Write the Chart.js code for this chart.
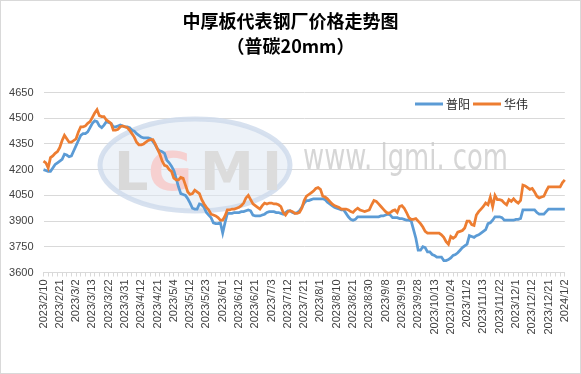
<!DOCTYPE html>
<html lang="zh">
<head>
<meta charset="UTF-8" />
<title>中厚板代表钢厂价格走势图</title>
<script src="https://cdn.jsdelivr.net/npm/chart.js"></script>
<style>
  html, body { margin: 0; padding: 0; background: #fff; }
  #grafico { display: block; }
</style>
</head>
<body>
<canvas id="grafico" width="581" height="374"></canvas>
<script>
  // one label every 7 trading days
  var dateLabels = ['2023/2/10','2023/2/21','2023/3/2','2023/3/13','2023/3/22','2023/3/31','2023/4/12','2023/4/21',
    '2023/5/4','2023/5/12','2023/5/23','2023/6/1','2023/6/12','2023/6/21','2023/7/3','2023/7/12','2023/7/21',
    '2023/8/1','2023/8/10','2023/8/21','2023/8/30','2023/9/8','2023/9/19','2023/9/28','2023/10/13','2023/10/24',
    '2023/11/2','2023/11/13','2023/11/22','2023/12/1','2023/12/12','2023/12/21','2024/1/2'];

  var seriesNames = ['普阳', '华伟'];

  var puyang = [
    4200,4195,4190,4190,4210,4230,4240,4250,4260,4290,
    4285,4275,4280,4310,4340,4370,4400,4410,4410,4420,
    4445,4470,4485,4480,4455,4445,4460,4480,4475,4470,
    4450,4450,4455,4460,4455,4450,4450,4445,4430,4425,
    4410,4400,4390,4385,4385,4385,4380,4365,4345,4320,
    4310,4305,4295,4255,4240,4220,4195,4150,4100,4060,
    4055,4050,4030,4005,3975,3970,3970,4000,3995,3980,
    3950,3935,3920,3890,3885,3885,3890,3830,3890,3945,
    3945,3945,3950,3950,3950,3955,3955,3960,3965,3960,
    3935,3930,3930,3930,3935,3940,3950,3955,3955,3955,
    3950,3950,3945,3940,3950,3960,3960,3950,3945,3950,
    3960,3980,4005,4020,4020,4025,4030,4030,4030,4030,
    4030,4025,4010,4000,3990,3980,3975,3970,3965,3965,
    3945,3925,3910,3905,3910,3925,3925,3925,3925,3925,
    3925,3925,3925,3925,3925,3930,3930,3935,3940,3935,
    3920,3920,3920,3915,3915,3910,3905,3905,3900,3850,
    3800,3730,3730,3750,3745,3720,3720,3705,3700,3690,
    3690,3690,3670,3670,3675,3685,3700,3705,3715,3730,
    3745,3755,3765,3815,3810,3805,3815,3820,3830,3840,
    3850,3885,3890,3905,3925,3925,3925,3920,3905,3905,
    3905,3905,3905,3910,3910,3915,3965,3965,3965,3965,
    3965,3965,3950,3940,3940,3940,3955,3970,3970,3970,
    3970,3970,3970,3970,3970
  ];

  var huawei = [
    4250,4240,4210,4270,4280,4295,4305,4330,4370,4400,
    4380,4360,4360,4370,4380,4420,4450,4450,4455,4470,
    4480,4505,4530,4550,4515,4510,4510,4490,4480,4470,
    4430,4430,4435,4450,4455,4450,4445,4430,4410,4390,
    4360,4345,4345,4350,4360,4370,4375,4375,4350,4320,
    4290,4250,4225,4220,4200,4190,4150,4140,4140,4155,
    4150,4110,4070,4055,4060,4080,4070,4060,4025,4000,
    3980,3965,3940,3935,3930,3920,3905,3905,3930,3965,
    3965,3970,3970,3975,3980,3990,4005,4035,4050,4025,
    4000,3990,3980,3970,3990,4005,4000,4005,4005,4000,
    4000,3995,3985,3950,3935,3955,3960,3955,3945,3945,
    3950,3975,4020,4045,4055,4065,4075,4090,4095,4085,
    4045,4040,4030,4015,4000,3990,3985,3980,3970,3970,
    3970,3965,3955,3950,3965,3975,3965,3960,3955,3960,
    3965,3995,4020,4015,4000,3985,3970,3955,3945,3950,
    3960,3965,3950,3985,3990,3975,3950,3920,3910,3910,
    3915,3900,3885,3865,3840,3830,3830,3830,3830,3830,
    3830,3820,3805,3780,3765,3810,3800,3810,3835,3840,
    3845,3860,3900,3900,3880,3875,3935,3955,3970,3985,
    4005,3995,4040,3985,4050,4025,4025,4020,4005,3995,
    4025,4015,4030,4015,4005,4020,4110,4105,4095,4085,
    4090,4070,4045,4035,4040,4045,4075,4100,4100,4100,
    4100,4100,4100,4125,4140
  ];

  var yMin = 3600, yMax = 4650, yStep = 150;

  var categories = [];
  for (var i = 0; i < puyang.length; i++) {
    categories.push(i % 7 === 0 ? dateLabels[i / 7] : '');
  }

  var colors = ['#5b9bd5', '#ed7d31'];

  // title, legend, watermark and frame
  var extras = {
    id: 'extras',
    beforeDraw: function (chart) {
      var ctx = chart.ctx;
      ctx.save();
      ctx.fillStyle = '#ffffff';
      ctx.fillRect(0, 0, chart.width, chart.height);
      ctx.restore();
    },
    beforeDatasetsDraw: function (chart) {
      var ctx = chart.ctx;
      ctx.save();
      // logo
      ctx.beginPath();
      ctx.ellipse(195, 165, 95, 46, 0, 0, 2 * Math.PI);
      ctx.fillStyle = 'rgba(222,231,242,0.55)';
      ctx.fill();
      ctx.lineWidth = 5;
      ctx.strokeStyle = 'rgba(205,218,235,0.8)';
      ctx.stroke();
      ctx.font = 'bold 54px "DejaVu Sans"';
      ctx.textBaseline = 'alphabetic';
      ctx.textAlign = 'left';
      var letters = [['L', 114, '#d9d9d9'], ['G', 148, '#f6d0d0'], ['M', 200, '#dcdcdc'], ['I', 262, '#dcdcdc']];
      letters.forEach(function (l) {
        ctx.fillStyle = l[2];
        ctx.fillText(l[0], l[1], 190);
      });
      // site text
      ctx.font = '36px "DejaVu Sans"';
      var txt = 'www. lgmi. com';
      var w = ctx.measureText(txt).width;
      ctx.translate(303, 169);
      ctx.scale(205 / w, 1);
      ctx.fillStyle = 'rgba(200,200,200,0.75)';
      ctx.fillText(txt, 0, 0);
      ctx.restore();
    },
    afterDraw: function (chart) {
      var ctx = chart.ctx;
      ctx.save();
      ctx.fillStyle = '#000';
      ctx.textAlign = 'center';
      ctx.textBaseline = 'middle';
      ctx.font = 'bold 18px "Noto Sans CJK SC"';
      ctx.fillText('中厚板代表钢厂价格走势图', 290.5, 21.5);
      ctx.fillText('（普碳20mm）', 290.5, 46);

      // legend
      var lx = [415, 473];
      ctx.font = '12px "Noto Sans CJK SC"';
      ctx.textAlign = 'left';
      for (var k = 0; k < 2; k++) {
        ctx.strokeStyle = colors[k];
        ctx.lineWidth = 3;
        ctx.beginPath();
        ctx.moveTo(lx[k], 104);
        ctx.lineTo(lx[k] + 28, 104);
        ctx.stroke();
        ctx.fillStyle = '#262626';
        ctx.fillText(seriesNames[k], lx[k] + 31, 104);
      }

      ctx.strokeStyle = '#d9d9d9';
      ctx.lineWidth = 1;
      ctx.strokeRect(0.5, 0.5, chart.width - 1, chart.height - 1);
      ctx.restore();
    }
  };

  new Chart(document.getElementById('grafico'), {
    type: 'line',
    data: {
      labels: categories,
      datasets: [
        { label: seriesNames[0], data: puyang, borderColor: colors[0], backgroundColor: colors[0],
          borderWidth: 2.75, pointRadius: 0, tension: 0, order: 1 },
        { label: seriesNames[1], data: huawei, borderColor: colors[1], backgroundColor: colors[1],
          borderWidth: 2.75, pointRadius: 0, tension: 0, order: 0 }
      ]
    },
    options: {
      responsive: false,
      animation: false,
      layout: { padding: { left: 8, top: 92.5, right: 14.3, bottom: 0 } },
      plugins: {
        legend: { display: false },
        title: { display: false },
        tooltip: { enabled: false }
      },
      scales: {
        x: {
          grid: {
            drawOnChartArea: false,
            drawTicks: true,
            tickLength: 4,
            color: function (c) { return c.index % 2 === 0 ? '#d9d9d9' : 'rgba(0,0,0,0)'; }
          },
          border: { color: '#d9d9d9' },
          ticks: {
            autoSkip: false,
            minRotation: 90,
            maxRotation: 90,
            padding: 3,
            color: '#404040',
            font: { size: 11, family: 'Liberation Sans' },
            callback: function (v, idx) { return categories[idx]; }
          },
          afterFit: function (s) { s.height = 101.5; }
        },
        y: {
          min: yMin,
          max: yMax,
          ticks: {
            stepSize: yStep,
            padding: 10,
            color: '#404040',
            font: { size: 11, family: 'Liberation Sans' },
            callback: function (v) { return String(v); }
          },
          grid: { color: '#d9d9d9', drawTicks: false },
          border: { display: false },
          afterFit: function (s) { s.width = 35.5; }
        }
      }
    },
    plugins: [extras]
  });
</script>
</body>
</html>
